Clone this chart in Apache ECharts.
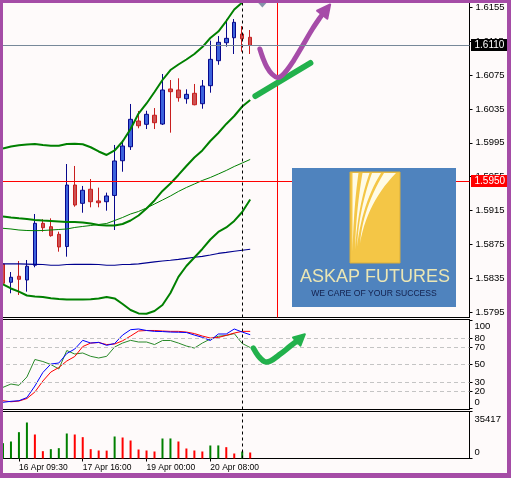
<!DOCTYPE html>
<html><head><meta charset="utf-8">
<script src="https://cdn.jsdelivr.net/npm/echarts@6/dist/echarts.min.js"></script>
<style>html,body{margin:0;padding:0;background:#fefafa;}#c{width:511px;height:478px;}</style>
</head><body><div id="c"></div>
<script>
// ---------- data ----------
const slotCount = 59; // 32 bars + empty chart shift area
const xTickIndex = [2, 10, 18, 26];
const xTickLabels = ['16 Apr 09:30', '17 Apr 16:00', '19 Apr 00:00', '20 Apr 08:00'];

const opens  = [1.58520,1.58304,1.58375,1.58331,1.58505,1.59000,1.58960,1.58870,1.58726,1.59452,1.59236,1.59402,1.59264,1.59255,1.59329,1.59739,1.59904,1.60208,1.60169,1.60276,1.60172,1.60586,1.60574,1.60471,1.60535,1.60412,1.60625,1.60920,1.61132,1.61191,1.61235,1.61196];
const highs  = [1.58530,1.58425,1.58555,1.58567,1.59110,1.59048,1.59059,1.58901,1.59700,1.59677,1.59441,1.59523,1.59421,1.59362,1.59925,1.59984,1.60409,1.60326,1.60329,1.60361,1.60763,1.60692,1.60712,1.60582,1.60645,1.60692,1.61156,1.61211,1.61408,1.61412,1.61329,1.61282];
const lows   = [1.58280,1.58174,1.58154,1.58193,1.58481,1.58901,1.58842,1.58665,1.58606,1.59196,1.59125,1.59189,1.59189,1.59149,1.58921,1.59609,1.59866,1.60122,1.60113,1.60113,1.60161,1.60070,1.60436,1.60412,1.60393,1.60353,1.60542,1.60872,1.61085,1.60999,1.61026,1.60999];
const closes = [1.58292,1.58363,1.58339,1.58493,1.59000,1.58948,1.58854,1.58721,1.59452,1.59216,1.59390,1.59255,1.59243,1.59323,1.59736,1.59913,1.60228,1.60152,1.60287,1.60188,1.60574,1.60554,1.60483,1.60523,1.60400,1.60621,1.60936,1.61137,1.61184,1.61373,1.61179,1.61100];

const bbUpper  = [1.59883,1.59907,1.59921,1.59931,1.59936,1.59925,1.59916,1.59916,1.59936,1.59939,1.59933,1.59898,1.59848,1.59807,1.59860,1.59966,1.60114,1.60296,1.60415,1.60550,1.60692,1.60810,1.60875,1.60934,1.60999,1.61081,1.61188,1.61264,1.61388,1.61524,1.61607,1.61707];
const bbMiddle = [1.59081,1.59069,1.59059,1.59051,1.59039,1.59033,1.59028,1.59022,1.59016,1.59016,1.59010,1.58998,1.58980,1.58974,1.58974,1.58992,1.59033,1.59092,1.59175,1.59270,1.59382,1.59470,1.59571,1.59677,1.59777,1.59860,1.59972,1.60066,1.60173,1.60267,1.60379,1.60456];
const bbLower  = [1.58280,1.58231,1.58193,1.58148,1.58136,1.58130,1.58115,1.58107,1.58101,1.58101,1.58101,1.58103,1.58113,1.58130,1.58113,1.58048,1.57977,1.57936,1.57932,1.57965,1.58036,1.58178,1.58367,1.58496,1.58597,1.58697,1.58809,1.58898,1.58951,1.59028,1.59134,1.59281];
const maFast   = [1.58941,1.58933,1.58921,1.58915,1.58913,1.58915,1.58921,1.58927,1.58933,1.58951,1.58963,1.58974,1.58986,1.58998,1.59033,1.59069,1.59110,1.59140,1.59181,1.59228,1.59275,1.59323,1.59376,1.59423,1.59464,1.59506,1.59541,1.59582,1.59624,1.59671,1.59712,1.59754];
const maSlow   = [1.58520,1.58520,1.58520,1.58518,1.58516,1.58514,1.58505,1.58505,1.58514,1.58516,1.58516,1.58516,1.58514,1.58505,1.58505,1.58514,1.58516,1.58520,1.58532,1.58544,1.58555,1.58564,1.58575,1.58587,1.58599,1.58609,1.58626,1.58644,1.58656,1.58670,1.58682,1.58694];

const stochMain   = [7.2,8.3,9.0,12.6,25.7,41.1,50.7,51.9,62.7,67.8,77.7,74.6,75.4,72.0,74.1,83.7,89.8,90.6,88.9,87.9,87.7,87.1,86.9,86.6,83.7,81.1,77.5,84.9,84.9,90.6,87.1,84.1];
const stochSignal = [9.0,7.8,8.6,11.5,18.9,31.4,41.6,46.8,54.2,59.3,70.6,74.6,75.2,72.9,73.5,77.2,82.6,88.3,88.9,88.9,88.3,87.9,87.9,87.1,85.4,82.6,80.3,80.9,83.4,86.0,87.9,87.9];
const stochSlow   = [24.2,28.0,26.5,36.0,55.9,53.6,50.2,45.1,66.1,62.1,63.3,59.5,57.6,59.5,70.1,74.6,77.7,75.8,75.8,72.9,77.5,77.5,74.6,71.2,68.9,74.6,79.2,82.3,83.2,85.4,74.1,69.5];
const stochLevels = [20, 30, 50, 70, 80];

const volumes = [11560,12810,19840,27130,18090,5530,7030,7790,18840,18090,16080,7030,6030,5950,16580,15830,13560,6780,6030,5280,15070,15100,12810,7540,6030,5280,9800,9850,8540,3770,5280,4520];

const priceTicks  = [1.5795,1.5835,1.5875,1.5915,1.5955,1.5995,1.6035,1.6075,1.6115,1.6155];
const priceRange  = [1.57888, 1.61607];
const stochTicks  = [0, 20, 30, 50, 70, 80, 100];
const stochRange  = [-1.0, 101.4];
const volumeTicks = [0, 35417];

const hLinePrice = 1.5950;     // red horizontal line
const separatorIndex = 30;     // dashed vertical line
const redVLineX = 34.32;       // red vertical line (bar position)
const shiftMarkX = 32.52;      // chart shift marker

// hand drawn annotations, in (bar position, price / stoch value)
const purpleStroke = [[32.21,1.61058],[32.59,1.60952],[33.09,1.60845],[33.72,1.60763],[34.53,1.60721],[35.41,1.60786],[36.41,1.60916],[37.54,1.61093],[38.80,1.61294],[39.80,1.61435],[40.87,1.61565]];
const greenStroke  = [[31.65,1.60503],[38.55,1.60893]];
const checkStroke  = [[31.39,68.9],[32.02,59.8],[32.77,53.6],[33.53,54.2],[34.78,62.1],[36.04,71.2],[37.04,78.0],[37.67,83.2]];

// ---------- chart ----------
const FONT = 'Liberation Sans';
const categories = [];
for (let i = 0; i < slotCount; i++) categories.push(String(i));
const ohlc = opens.map((o, i) => [o, closes[i], lows[i], highs[i]]);
const volData = volumes.map((v, i) => ({value: v, itemStyle: {color: (i === 0 || v > volumes[i - 1]) ? '#008000' : '#ff0000'}}));

const GL = -1.0, GW = 470.5;
const gridBase = {left: GL, width: GW, show: true, borderColor: '#000', borderWidth: 1, backgroundColor: 'transparent', containLabel: false, outerBoundsMode: 'none'};

function arrowHead(a, b, len, hw) {
  const dx = b[0] - a[0], dy = b[1] - a[1];
  const d = Math.hypot(dx, dy) || 1;
  const ux = dx / d, uy = dy / d;
  const bx = b[0] - ux * len, by = b[1] - uy * len;
  return {base: [bx, by], tri: [[b[0] + ux * 2, b[1] + uy * 2], [bx - uy * hw, by + ux * hw], [bx + uy * hw, by - ux * hw]]};
}
function strokeWithArrow(api, path, color, width, len, hw) {
  const pts = path.map(p => api.coord(p));
  const ah = arrowHead(pts[pts.length - 2], pts[pts.length - 1], len, hw);
  const body = pts.slice(0, -1).concat([ah.base]);
  return [
    {type: 'polyline', shape: {points: body, smooth: 0.35}, style: {stroke: color, lineWidth: width, lineCap: 'round', lineJoin: 'round', fill: null}},
    {type: 'polygon', shape: {points: ah.tri}, style: {fill: color, stroke: color, lineWidth: 2, lineJoin: 'round'}}
  ];
}
// horizontal price line with its price box on the axis
function priceLineEls(api, cs, price, lineColor, boxColor) {
  const y = Math.round(api.coord([0, price])[1]) + 0.5;
  const x0 = cs.x, x1 = cs.x + cs.width;
  return [
    {type: 'line', z2: 1, shape: {x1: x0, y1: y, x2: x1, y2: y}, style: {stroke: lineColor, lineWidth: 1}},
    {type: 'rect', z2: 5, shape: {x: x1 + 1.5, y: y - 6.5, width: 40, height: 12}, style: {fill: boxColor}},
    {type: 'text', z2: 6, x: x1 + 5, y: y, style: {text: price.toFixed(4), fill: '#fff', font: '10px "Liberation Sans"', align: 'left', verticalAlign: 'middle', textAlign: 'left', textVerticalAlign: 'middle'}}
  ];
}

function yLabelRich(padTop, padBottom) {
  return {fontSize: 9.5, fontFamily: FONT, color: '#000', padding: [padTop, 0, padBottom, 0]};
}

// logo beams
function bez(p0, c, p1, n) {
  const out = [];
  for (let k = 0; k <= n; k++) {
    const t = k / n;
    out.push([(1-t)*(1-t)*p0[0] + 2*(1-t)*t*c[0] + t*t*p1[0], (1-t)*(1-t)*p0[1] + 2*(1-t)*t*c[1] + t*t*p1[1]]);
  }
  return out;
}
function beam(bx, by, t1, t2) {
  const top = 173;
  const c1 = [bx + (t1 - bx) * 0.12, top + (by - top) * 0.5];
  const c2 = [bx + (t2 - bx) * 0.2, top + (by - top) * 0.42];
  const a = bez([bx, by], c1, [t1, top], 14);
  const b = bez([t2, top], c2, [bx, by], 14);
  return a.concat(b);
}
const beams = [beam(352.5, 252, 352.5, 358.5), beam(355, 250, 362.5, 369.5), beam(357, 247, 372, 381), beam(360, 243, 384, 396)];

const yAxisLine = {show: true, onZero: false, lineStyle: {color: '#000'}};
function sepLine() {
  return {silent: true, symbol: ['none', 'none'], animation: false, label: {show: false},
    lineStyle: {color: '#000', width: 1, type: [3, 3], opacity: 1}, data: [{xAxis: separatorIndex}]};
}

const option = {
  animation: false,
  backgroundColor: '#fefafa',
  textStyle: {fontFamily: FONT},
  grid: [
    Object.assign({top: 2.5, height: 315}, gridBase),
    Object.assign({top: 319.5, height: 90}, gridBase),
    Object.assign({top: 411.5, height: 47}, gridBase)
  ],
  xAxis: [
    {type: 'category', gridIndex: 0, data: categories, boundaryGap: true, axisLine: {show: false, onZero: false}, axisTick: {show: false}, axisLabel: {show: false}, splitLine: {show: false}},
    {type: 'category', gridIndex: 1, data: categories, boundaryGap: true, axisLine: {show: false, onZero: false}, axisTick: {show: false}, axisLabel: {show: false}, splitLine: {show: false}},
    {type: 'category', gridIndex: 2, data: categories, boundaryGap: true,
      axisLine: {show: true, onZero: false, lineStyle: {color: '#000', width: 1}},
      axisTick: {show: true, alignWithLabel: true, length: 3, interval: (i) => xTickIndex.includes(i), lineStyle: {color: '#000'}},
      axisLabel: {show: true, interval: (i) => xTickIndex.includes(i), formatter: (v, i) => xTickLabels[xTickIndex.indexOf(i)] || '', align: 'left', margin: 5, fontSize: 8.5, color: '#000', fontFamily: FONT},
      splitLine: {show: false}},
    {type: 'value', gridIndex: 0, min: -0.5, max: slotCount - 0.5, show: false, axisLine: {onZero: false}},
    {type: 'value', gridIndex: 1, min: -0.5, max: slotCount - 0.5, show: false, axisLine: {onZero: false}}
  ],
  yAxis: [
    {type: 'value', gridIndex: 0, position: 'right', min: priceRange[0], max: priceRange[1], splitLine: {show: false},
      axisLine: yAxisLine,
      axisTick: {show: true, length: 3, customValues: priceTicks, lineStyle: {color: '#000'}},
      axisLabel: {show: true, customValues: priceTicks, formatter: v => v.toFixed(4), margin: 6, fontSize: 9.5, color: '#000', fontFamily: FONT}},
    {type: 'value', gridIndex: 1, position: 'right', min: stochRange[0], max: stochRange[1], splitLine: {show: false},
      axisLine: yAxisLine,
      axisTick: {show: true, length: 3, customValues: stochTicks, lineStyle: {color: '#000'}},
      axisLabel: {show: true, customValues: stochTicks, margin: 5,
        formatter: v => v === 100 ? '{t|100}' : (v === 0 ? '{b|0}' : '{m|' + v + '}'),
        rich: {t: yLabelRich(11, 0), b: yLabelRich(0, 13), m: yLabelRich(0, 0)}}},
    {type: 'value', gridIndex: 2, position: 'right', min: 0, max: volumeTicks[1], splitLine: {show: false},
      axisLine: yAxisLine,
      axisTick: {show: true, length: 3, customValues: volumeTicks, lineStyle: {color: '#000'}},
      axisLabel: {show: true, customValues: volumeTicks, margin: 5,
        formatter: v => v === 0 ? '{b|0}' : '{t|' + v + '}',
        rich: {t: yLabelRich(15, 0), b: yLabelRich(0, 12)}}}
  ],
  series: [
    {type: 'candlestick', xAxisIndex: 0, yAxisIndex: 0, data: ohlc, barWidth: 4, z: 2,
      itemStyle: {color: '#3c62dc', color0: '#cc5252', borderColor: '#08088c', borderColor0: '#c81e1e', borderWidth: 1},
      markLine: sepLine()},
    {type: 'line', xAxisIndex: 0, yAxisIndex: 0, data: maSlow, showSymbol: false, symbol: 'none', z: 3, lineStyle: {color: '#00008f', width: 1.2}},
    {type: 'line', xAxisIndex: 0, yAxisIndex: 0, data: maFast, showSymbol: false, symbol: 'none', z: 3, lineStyle: {color: '#008000', width: 1}},
    {type: 'line', xAxisIndex: 0, yAxisIndex: 0, data: bbUpper, showSymbol: false, symbol: 'none', z: 3, lineStyle: {color: '#008000', width: 2}},
    {type: 'line', xAxisIndex: 0, yAxisIndex: 0, data: bbMiddle, showSymbol: false, symbol: 'none', z: 3, lineStyle: {color: '#008000', width: 2}},
    {type: 'line', xAxisIndex: 0, yAxisIndex: 0, data: bbLower, showSymbol: false, symbol: 'none', z: 3, lineStyle: {color: '#008000', width: 2}},
    // stochastic panel
    {type: 'line', xAxisIndex: 1, yAxisIndex: 1, data: stochSlow, showSymbol: false, symbol: 'none', z: 3, lineStyle: {color: '#2a8a2a', width: 1},
      markLine: {silent: true, symbol: ['none', 'none'], animation: false, precision: 3, label: {show: false},
        lineStyle: {color: '#c4c4c4', width: 1, type: [4, 3], opacity: 1},
        data: stochLevels.map(v => ({yAxis: v}))}},
    {type: 'line', xAxisIndex: 1, yAxisIndex: 1, data: stochSignal, showSymbol: false, symbol: 'none', z: 3, lineStyle: {color: '#ff0000', width: 1},
      markLine: sepLine()},
    {type: 'line', xAxisIndex: 1, yAxisIndex: 1, data: stochMain, showSymbol: false, symbol: 'none', z: 3, lineStyle: {color: '#0000ff', width: 1}},
    // volume panel
    {type: 'bar', xAxisIndex: 2, yAxisIndex: 2, data: volData, barWidth: 2, markLine: sepLine()},
    // price lines + hand-drawn annotations, main chart
    {type: 'custom', xAxisIndex: 3, yAxisIndex: 0, data: [[0, priceRange[1]]], z: 10, clip: false,
      renderItem: (params, api) => {
        const cs = params.coordSys;
        const top = api.coord([shiftMarkX, priceRange[1]]);
        const g1 = api.coord(greenStroke[0]), g2 = api.coord(greenStroke[1]);
        const vx = Math.round(api.coord([redVLineX, priceRange[1]])[0]) + 0.5;
        return {type: 'group', children: []
          .concat(priceLineEls(api, cs, closes[closes.length - 1], '#778899', '#000000'))
          .concat(priceLineEls(api, cs, hLinePrice, '#ff0000', '#ff0000'))
          .concat([
            {type: 'line', shape: {x1: vx, y1: cs.y, x2: vx, y2: cs.y + cs.height}, style: {stroke: '#ff0000', lineWidth: 1}},
            {type: 'polygon', shape: {points: [[top[0] - 4.5, top[1]], [top[0] + 4.5, top[1]], [top[0], top[1] + 5]]}, style: {fill: '#8494a8'}},
            {type: 'line', shape: {x1: g1[0], y1: g1[1], x2: g2[0], y2: g2[1]}, style: {stroke: '#22b14c', lineWidth: 6, lineCap: 'round'}}
          ])
          .concat(strokeWithArrow(api, purpleStroke, '#a64ca8', 5, 11, 6.5))};
      }},
    // hand-drawn check in stochastic panel
    {type: 'custom', xAxisIndex: 4, yAxisIndex: 1, data: [[0, 50]], z: 10, clip: false,
      renderItem: (params, api) => ({type: 'group', children: strokeWithArrow(api, checkStroke, '#22b14c', 5.5, 9, 5.5)})}
  ],
  graphic: {elements: [
    {type: 'rect', z: 50, shape: {x: 292, y: 168, width: 164, height: 139}, style: {fill: '#4f83be'}},
    {type: 'rect', z: 51, shape: {x: 350, y: 172, width: 50, height: 91}, style: {fill: '#f4c646', stroke: '#d9ae3c', lineWidth: 1}},
  ].concat(beams.map(b => ({type: 'polygon', z: 52, shape: {points: b}, style: {fill: '#fffbe6'}}))).concat([
    {type: 'text', z: 53, x: 375, y: 277, style: {text: 'ASKAP FUTURES', font: '18px "Liberation Sans"', fill: '#ebe6b4', align: 'center', verticalAlign: 'middle', textAlign: 'center', textVerticalAlign: 'middle'}},
    {type: 'text', z: 53, x: 374, y: 294, style: {text: 'WE CARE OF YOUR SUCCESS', font: '8.6px "Liberation Sans"', fill: '#13214e', align: 'center', verticalAlign: 'middle', textAlign: 'center', textVerticalAlign: 'middle'}},
    // purple window frame
    {type: 'rect', z: 100, shape: {x: 0, y: 0, width: 511, height: 3}, style: {fill: '#a54ca6'}},
    {type: 'rect', z: 100, shape: {x: 0, y: 0, width: 3, height: 478}, style: {fill: '#a54ca6'}},
    {type: 'rect', z: 100, shape: {x: 507, y: 0, width: 4, height: 478}, style: {fill: '#a54ca6'}},
    {type: 'rect', z: 100, shape: {x: 0, y: 473, width: 511, height: 5}, style: {fill: '#a54ca6'}}
  ])}
};

const chart = echarts.init(document.getElementById('c'), null, {renderer: 'canvas', width: 511, height: 478});
chart.setOption(option);
</script>
</body></html>
